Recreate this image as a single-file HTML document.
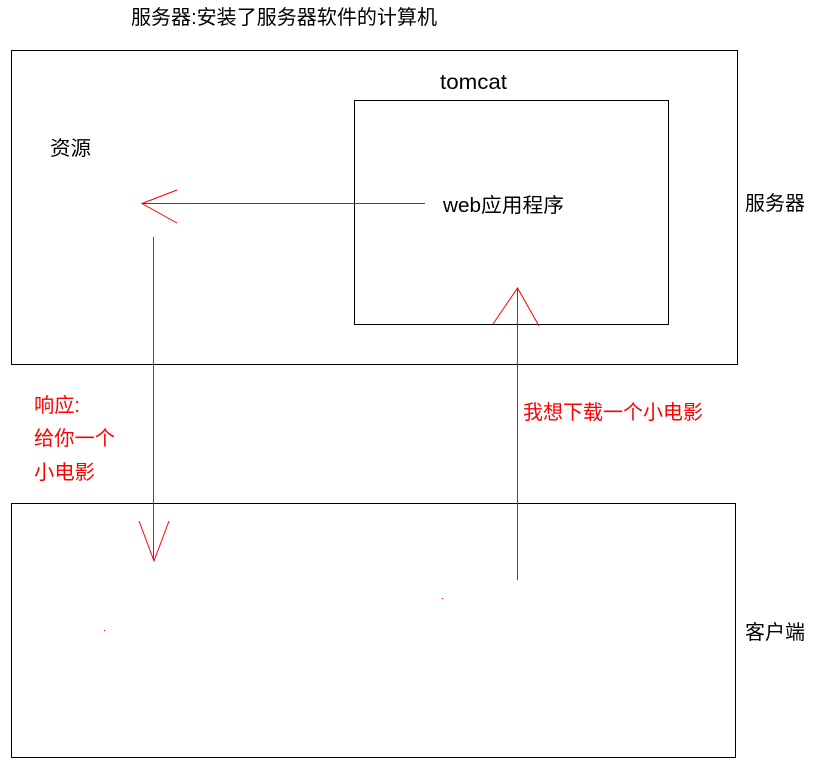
<!DOCTYPE html>
<html><head><meta charset="utf-8"><style>
html,body{margin:0;padding:0;background:#fff;}
svg{display:block;}
text{font-family:"Liberation Sans","Noto Sans CJK SC",sans-serif;}
</style></head><body>
<svg width="823" height="769" viewBox="0 0 823 769" xmlns="http://www.w3.org/2000/svg">
<rect x="11.5" y="50.5" width="726" height="314" fill="none" stroke="#000" stroke-width="1"/>
<rect x="354.5" y="100.5" width="314" height="224" fill="none" stroke="#000" stroke-width="1"/>
<rect x="11.5" y="503.5" width="724" height="254" fill="none" stroke="#000" stroke-width="1"/>
<g font-size="20" fill="#000">
<text x="131" y="24" textLength="306" lengthAdjust="spacingAndGlyphs">服务器:安装了服务器软件的计算机</text>
<text x="440" y="89" font-size="21" textLength="67" lengthAdjust="spacingAndGlyphs">tomcat</text>
<text x="50" y="155" textLength="41" lengthAdjust="spacingAndGlyphs">资源</text>
<text x="443" y="212" textLength="121" lengthAdjust="spacingAndGlyphs">web应用程序</text>
<text x="745" y="210" textLength="60" lengthAdjust="spacingAndGlyphs">服务器</text>
<text x="745" y="639" textLength="60" lengthAdjust="spacingAndGlyphs">客户端</text>
</g>
<g font-size="20" fill="#ff0000">
<text x="34" y="412" textLength="46" lengthAdjust="spacingAndGlyphs">响应:</text>
<text x="34" y="445" textLength="81" lengthAdjust="spacingAndGlyphs">给你一个</text>
<text x="34" y="479" textLength="61" lengthAdjust="spacingAndGlyphs">小电影</text>
<text x="523" y="419" textLength="180" lengthAdjust="spacingAndGlyphs">我想下载一个小电影</text>
</g>
<g stroke="#ff0000" stroke-width="1" fill="none">
<line x1="425" y1="203.5" x2="142" y2="203.5"/>
<polyline points="177,190 142,203.5 177,223"/>
<line x1="153.5" y1="237" x2="153.5" y2="560"/>
<polyline points="139,521 154,561 169,521"/>
<line x1="517.5" y1="580" x2="517.5" y2="288"/>
<polyline points="493,324 517.5,288 539,326"/>
</g>
<rect x="104" y="630" width="1" height="1" fill="#ff0000"/>
<rect x="442" y="598" width="1" height="1" fill="#ff0000"/>
</svg>
</body></html>
